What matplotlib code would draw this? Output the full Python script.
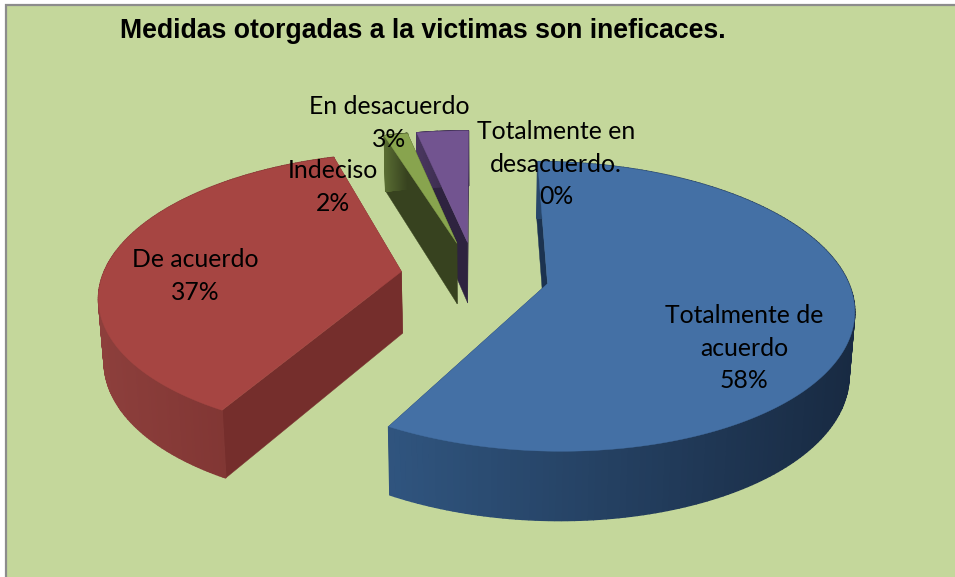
import numpy as np
import matplotlib
matplotlib.use("Agg")
import matplotlib.pyplot as plt
from matplotlib.colors import to_rgb
from matplotlib.patches import Rectangle

title = "Medidas otorgadas a la victimas son ineficaces."
labels = ["Totalmente de\nacuerdo", "De acuerdo", "Indeciso", "En desacuerdo", "Totalmente en\ndesacuerdo."]
values = [58, 37, 1.5, 3.3, 0]
top_colors = ["#4470A5", "#A64542", "#88A44E", "#725490", "#3F9BB3"]
side_colors = ["#1C3350", "#752E2C", "#37421F", "#2E233F", "#1C4A55"]
wall_left = ["#30557F", "#8D3F3C", "#5A6E33", "#4A3760", "#2A6A7A"]
wall_right = ["#182A42", "#772F2D", "#37421F", "#2E233F", "#1C4A55"]
label_pos = [(744, 348), (195, 276), (333, 187), (389, 123), (556, 164)]

# projection of the tilted pie, in pixels
CX, CY = 475, 275
RX, RY = 303, 138.5
TILT = 0.156
DEPTH = 62
EXPLODE = 0.245
SQUEEZE = 0.985

def project(u, v):
    w = 1 + TILT*v
    return CX + RX*u/w, CY - RY*v/w

def project_low(u, v):
    x, y = project(u, v)
    return CX + (x-CX)*0.985, y + DEPTH/(1 + 0.1*v)

def mix(c1, c2, t):
    a, b = np.array(to_rgb(c1)), np.array(to_rgb(c2))
    return tuple(a + (b-a)*t)

fig = plt.figure(figsize=(9.55, 5.77), dpi=100, facecolor="white")
ax = fig.add_axes([0, 0, 1, 1])
ax.set_xlim(0, 955)
ax.set_ylim(577, 0)
ax.axis("off")

ax.add_patch(Rectangle((6, 5), 960, 590, facecolor="#C4D79B", edgecolor="#8C8C8C", linewidth=1.6))

ends = np.cumsum(values)/np.sum(values)*360
starts = ends - np.array(values)/np.sum(values)*360

# back slices first so the front ones cover them
order = [4, 3, 2, 1, 0]
for i in order:
    if values[i] == 0:
        continue
    mid = np.radians((starts[i]+ends[i])/2)
    ou, ov = EXPLODE*np.sin(mid), EXPLODE*np.cos(mid)
    th = np.radians(np.linspace(starts[i], ends[i], 200))
    u = ou + SQUEEZE*np.sin(th)
    v = ov + np.cos(th)

    # radial walls
    for a in (th[0], th[-1]):
        eu, ev = ou + SQUEEZE*np.sin(a), ov + np.cos(a)
        x1, y1 = project(ou, ov)
        x2, y2 = project(eu, ev)
        x3, y3 = project_low(eu, ev)
        x4, y4 = project_low(ou, ov)
        ax.fill([x1, x2, x3, x4], [y1, y2, y3, y4], color=side_colors[i], lw=0.3, zorder=2)

    # outer wall, one strip per step for the shading
    xt, yt = project(u, v)
    xb, yb = project_low(u, v)
    xmin, xmax = xt.min(), xt.max()
    for j in range(len(th)-1):
        t = (xt[j]-xmin)/max(xmax-xmin, 1)
        ax.fill([xt[j], xt[j+1], xb[j+1], xb[j]], [yt[j], yt[j+1], yb[j+1], yb[j]],
                color=mix(wall_left[i], wall_right[i], t), lw=1.0, zorder=2)

    # top face
    ax_, ay_ = project(ou, ov)
    ax.fill(np.r_[ax_, xt], np.r_[ay_, yt], color=top_colors[i], lw=0.3, zorder=3)

for i in range(len(values)):
    ax.text(label_pos[i][0], label_pos[i][1], "%s\n%.0f%%" % (labels[i], values[i]), ha="center", va="center",
            family="Lato", fontsize=17.8, linespacing=1.5, color="black", zorder=5)

ax.text(120, 31, title, ha="left", va="center", family="Liberation Sans", fontweight="bold", fontsize=19.2, color="black", zorder=5)

fig.savefig("out.png", dpi=100, facecolor="white")
